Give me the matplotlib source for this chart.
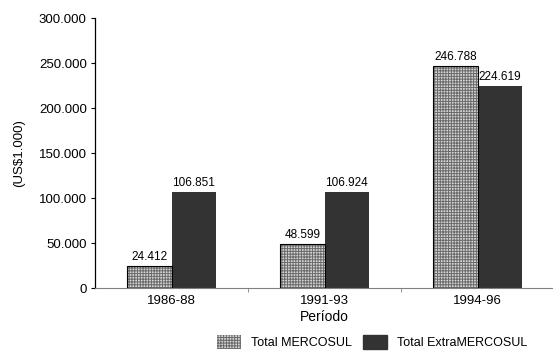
import matplotlib
matplotlib.use("Agg")
import matplotlib.pyplot as plt
import matplotlib.patches as mpatches
import numpy as np

# ── data ─────────────────────────────────────────────────────────────
periods = ["1986-88", "1991-93", "1994-96"]
mercosul = [24412, 48599, 246788]
extra_mercosul = [106851, 106924, 224619]
series_names = ["Total MERCOSUL", "Total ExtraMERCOSUL"]

plt.rcParams["font.family"] = ["Liberation Sans", "DejaVu Sans"]
plt.rcParams["font.size"] = 9
plt.rcParams["hatch.linewidth"] = 0.7

fig = plt.figure(figsize=(5.53, 3.56), dpi=100)
ax = fig.add_axes([0.172, 0.191, 0.83, 0.758])

x = np.arange(len(periods))
w = 0.29
HATCH_FC = "#d4d4d4"
HATCH_EC = "#6a6a6a"
DARK = "#333333"

# hatched bars (pattern first, then a black outline on top)
ax.bar(x - w / 2, mercosul, w, facecolor=HATCH_FC, edgecolor=HATCH_EC,
       hatch="++++++", linewidth=0, zorder=2)
ax.bar(x - w / 2, mercosul, w, fill=False, edgecolor="black", linewidth=0.8, zorder=3)
ax.bar(x + w / 2, extra_mercosul, w, color=DARK, linewidth=0, zorder=2)

def fmt(v):
    return f"{v:,}".replace(",", ".")

for xi, v in zip(x - w / 2, mercosul):
    ax.text(xi, v + 3500, fmt(v), ha="center", va="bottom", fontsize=8.5)
for xi, v in zip(x + w / 2, extra_mercosul):
    ax.text(xi, v + 3500, fmt(v), ha="center", va="bottom", fontsize=8.5)

ax.set_xlim(-0.5, 2.5)
ax.set_ylim(0, 300000)
ax.set_yticks(np.arange(0, 300001, 50000))
ax.set_yticklabels([fmt(v) for v in range(0, 300001, 50000)], fontsize=9.5)
ax.set_xticks(x)
ax.set_xticklabels(periods, fontsize=9.5)
ax.tick_params(axis="x", length=0, pad=5)
ax.set_xticks([0.5, 1.5], minor=True)
ax.tick_params(axis="x", which="minor", length=3, color="#808080")
ax.tick_params(axis="y", length=3, pad=3)

for s in ["top", "right"]:
    ax.spines[s].set_visible(False)
ax.spines["bottom"].set_color("#808080")
ax.spines["left"].set_linewidth(0.9)

ax.set_ylabel("(US$1.000)", labelpad=10, fontsize=9.5)
ax.set_xlabel("Período", fontsize=10, labelpad=2)

handles = [
    mpatches.Patch(facecolor=HATCH_FC, edgecolor=HATCH_EC, hatch="++++++",
                   linewidth=0, label=series_names[0]),
    mpatches.Patch(facecolor=DARK, edgecolor=DARK, label=series_names[1]),
]
fig.legend(handles=handles, loc="lower center", bbox_to_anchor=(0.673, -0.012),
           ncol=2, frameon=False, fontsize=9, handlelength=1.9, handleheight=1.35,
           columnspacing=0.9, handletextpad=0.8)

fig.savefig("out.png", dpi=100)
